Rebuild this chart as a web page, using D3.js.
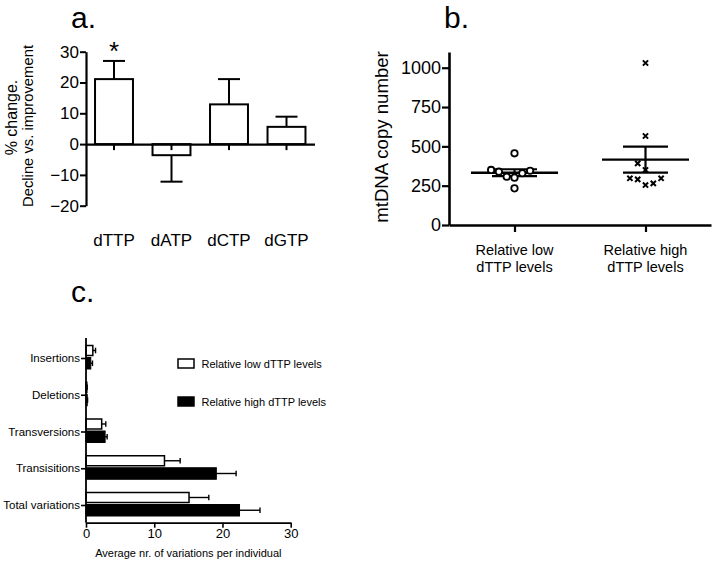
<!DOCTYPE html>
<html>
<head>
<meta charset="utf-8">
<script src="https://cdn.jsdelivr.net/npm/d3@7"></script>
<style>
  html, body { margin: 0; padding: 0; background: #fff; }
  svg { display: block; font-family: "Liberation Sans", Arial, Helvetica, sans-serif; }
  text { fill: #000; }
</style>
</head>
<body>
<svg id="chart" width="713" height="562"></svg>
<script>
// ---------- Panel a data ----------
const aCategories = ["dTTP", "dATP", "dCTP", "dGTP"];
const aValues = [21.1, -3.6, 12.9, 5.6];
const aErrors = [5.9, 8.6, 8.2, 3.3];
const aYTicks = [-20, -10, 0, 10, 20, 30];
const aSignificant = ["dTTP"];

// ---------- Panel b data ----------
const bGroups = ["Relative low dTTP levels", "Relative high dTTP levels"];
const bLowValues = [456, 350, 339, 307, 301, 329, 345, 233];
const bLowSlots = [0, -3, -2, -1, 0, 1, 2, 0];
const bHighValues = [1030, 566, 392, 350, 297, 290, 254, 265, 297];
const bHighSlots = [0, 0, -1, 0, -2, -1, 0, 1, 2];
const bYTicks = [0, 250, 500, 750, 1000];

// ---------- Panel c data ----------
const cCategories = ["Insertions", "Deletions", "Transversions", "Transisitions", "Total variations"];
const cLow = [1.0, 0.12, 2.3, 11.5, 15.1];
const cLowErr = [0.4, 0.05, 0.6, 2.3, 2.9];
const cHigh = [0.7, 0.18, 2.8, 19.1, 22.5];
const cHighErr = [0.25, 0.05, 0.3, 2.9, 3.0];
const cXTicks = [0, 10, 20, 30];
const cSeries = ["Relative low dTTP levels", "Relative high dTTP levels"];

const svg = d3.select("#chart");

// =================== Panel a ===================
(function () {
  const g = svg.append("g");
  const x = d3.scaleBand().domain(aCategories).range([86, 314.5])
    .paddingInner(0.34).paddingOuter(0.157);
  const y = d3.scaleLinear().domain([-20, 30]).range([205.7, 51.7]);

  g.append("text").attr("x", 71).attr("y", 28).attr("font-size", 30).text("a.");

  // bars
  g.selectAll("rect.bar").data(aCategories).enter().append("rect")
    .attr("x", d => x(d))
    .attr("width", x.bandwidth())
    .attr("y", (d, i) => y(Math.max(0, aValues[i])))
    .attr("height", (d, i) => Math.abs(y(aValues[i]) - y(0)))
    .attr("fill", "#fff").attr("stroke", "#000").attr("stroke-width", 2);

  // error bars
  aCategories.forEach((c, i) => {
    const cx = x(c) + x.bandwidth() / 2;
    const v = aValues[i];
    const e = v >= 0 ? v + aErrors[i] : v - aErrors[i];
    g.append("line").attr("x1", cx).attr("x2", cx).attr("y1", y(v)).attr("y2", y(e))
      .attr("stroke", "#000").attr("stroke-width", 2);
    g.append("line").attr("x1", cx - 11).attr("x2", cx + 11).attr("y1", y(e)).attr("y2", y(e))
      .attr("stroke", "#000").attr("stroke-width", 2);
    if (aSignificant.includes(c)) {
      g.append("text").attr("x", cx).attr("y", y(e) - 1).attr("text-anchor", "middle")
        .attr("font-size", 26).text("*");
    }
  });

  // y axis
  const ya = g.append("g").attr("transform", "translate(86,0)")
    .call(d3.axisLeft(y).tickValues(aYTicks).tickSize(6).tickSizeOuter(0).tickPadding(1));
  ya.select(".domain").attr("stroke-width", 2.2);
  ya.selectAll(".tick line").attr("stroke-width", 2);
  ya.selectAll(".tick text").attr("font-size", 17).attr("font-family", null).attr("fill", "#000");

  // x axis at zero
  const xa = g.append("g").attr("transform", `translate(0,${y(0)})`)
    .call(d3.axisBottom(x).tickSize(6).tickSizeOuter(0).tickFormat(""));
  xa.select(".domain").attr("stroke-width", 2.2);
  xa.selectAll(".tick line").attr("stroke-width", 2);

  g.selectAll("text.cat").data(aCategories).enter().append("text")
    .attr("x", d => x(d) + x.bandwidth() / 2).attr("y", 246)
    .attr("text-anchor", "middle").attr("font-size", 17).text(d => d);

  // y label
  g.append("text").attr("transform", "translate(17,117.5) rotate(-90)")
    .attr("text-anchor", "middle").attr("font-size", 16).text("% change.");
  g.append("text").attr("transform", "translate(33,126) rotate(-90)")
    .attr("text-anchor", "middle").attr("font-size", 14.8).text("Decline vs. improvement");
})();

// =================== Panel b ===================
(function () {
  const g = svg.append("g");
  const x = d3.scalePoint().domain(bGroups).range([449, 711]).padding(0.5);
  const y = d3.scaleLinear().domain([0, 1100]).range([225, 52]);
  const slotW = 7.8;

  g.append("text").attr("x", 444).attr("y", 28).attr("font-size", 30).text("b.");

  const ya = g.append("g").attr("transform", "translate(449,0)")
    .call(d3.axisLeft(y).tickValues(bYTicks).tickFormat(d3.format("d"))
      .tickSize(7).tickSizeOuter(0).tickPadding(1));
  ya.select(".domain").attr("stroke-width", 2.6);
  ya.selectAll(".tick line").attr("stroke-width", 2.2);
  ya.selectAll(".tick text").attr("font-size", 18).attr("font-family", null).attr("fill", "#000");

  const xa = g.append("g").attr("transform", "translate(0,225)")
    .call(d3.axisBottom(x).tickSize(7).tickSizeOuter(0).tickFormat(""));
  xa.select(".domain").attr("stroke-width", 2.6);
  xa.selectAll(".tick line").attr("stroke-width", 2.2);

  bGroups.forEach(gr => {
    const words = gr.split(" ");
    const t = g.append("text").attr("x", x(gr)).attr("y", 255).attr("text-anchor", "middle")
      .attr("font-size", 14.5);
    t.append("tspan").attr("x", x(gr)).attr("dy", 0).text(words.slice(0, 2).join(" "));
    t.append("tspan").attr("x", x(gr)).attr("dy", 16.7).text(words.slice(2).join(" "));
  });

  g.append("text").attr("transform", "translate(388,137) rotate(-90)")
    .attr("text-anchor", "middle").attr("font-size", 18.6).text("mtDNA copy number");

  // mean and SEM
  function meanSem(vals, cx) {
    const m = d3.mean(vals);
    const sem = d3.deviation(vals) / Math.sqrt(vals.length);
    g.append("line").attr("x1", cx - 43.5).attr("x2", cx + 43.5).attr("y1", y(m)).attr("y2", y(m))
      .attr("stroke", "#000").attr("stroke-width", 2.4);
    [m + sem, m - sem].forEach(v => {
      g.append("line").attr("x1", cx - 22.5).attr("x2", cx + 22.5).attr("y1", y(v)).attr("y2", y(v))
        .attr("stroke", "#000").attr("stroke-width", 2.2);
    });
    g.append("line").attr("x1", cx).attr("x2", cx).attr("y1", y(m + sem)).attr("y2", y(m - sem))
      .attr("stroke", "#000").attr("stroke-width", 2.2);
  }

  const cLowX = x(bGroups[0]);
  const cHighX = x(bGroups[1]);
  meanSem(bLowValues, cLowX);
  meanSem(bHighValues, cHighX);

  g.selectAll("circle.low").data(bLowValues).enter().append("circle")
    .attr("cx", (d, i) => cLowX + bLowSlots[i] * slotW)
    .attr("cy", d => y(d))
    .attr("r", 3.2).attr("fill", "#fff").attr("stroke", "#000").attr("stroke-width", 1.8);

  const s = 2.6;
  bHighValues.forEach((d, i) => {
    const cx = cHighX + bHighSlots[i] * slotW, cy = y(d);
    g.append("path")
      .attr("d", `M${cx - s},${cy - s}L${cx + s},${cy + s}M${cx - s},${cy + s}L${cx + s},${cy - s}`)
      .attr("stroke", "#000").attr("stroke-width", 2).attr("fill", "none");
  });
})();

// =================== Panel c ===================
(function () {
  const g = svg.append("g");
  const x = d3.scaleLinear().domain([0, 30]).range([86, 290.7]);
  const y = d3.scalePoint().domain(cCategories).range([358, 505]);
  const top = 338, bottom = 522.7;

  g.append("text").attr("x", 71).attr("y", 302).attr("font-size", 30).text("c.");

  // bars
  cCategories.forEach((c, i) => {
    const cy = y(c);
    g.append("rect").attr("x", x(0)).attr("y", cy - 12.5)
      .attr("width", x(cLow[i]) - x(0)).attr("height", 10)
      .attr("fill", "#fff").attr("stroke", "#000").attr("stroke-width", 1.5);
    g.append("rect").attr("x", x(0)).attr("y", cy - 0.5)
      .attr("width", x(cHigh[i]) - x(0)).attr("height", 11.5)
      .attr("fill", "#000").attr("stroke", "#000").attr("stroke-width", 1);
    [[cLow[i], cLowErr[i], cy - 7.5], [cHigh[i], cHighErr[i], cy + 5.25]].forEach(([v, e, yy]) => {
      g.append("line").attr("x1", x(v)).attr("x2", x(v + e)).attr("y1", yy).attr("y2", yy)
        .attr("stroke", "#000").attr("stroke-width", 1.4);
      g.append("line").attr("x1", x(v + e)).attr("x2", x(v + e)).attr("y1", yy - 2.8).attr("y2", yy + 2.8)
        .attr("stroke", "#000").attr("stroke-width", 1.4);
    });
  });

  const ya = g.append("g").attr("transform", "translate(86,0)")
    .call(d3.axisLeft(y).tickSize(5).tickSizeOuter(0).tickPadding(1));
  ya.select(".domain").remove();
  ya.append("line").attr("x1", 0).attr("x2", 0).attr("y1", top).attr("y2", bottom)
    .attr("stroke", "#000").attr("stroke-width", 1.8);
  ya.selectAll(".tick line").attr("stroke-width", 1.6);
  ya.selectAll(".tick text").attr("font-size", 11.5).attr("font-family", null).attr("fill", "#000");

  const xa = g.append("g").attr("transform", `translate(0,${bottom})`)
    .call(d3.axisBottom(x).tickValues(cXTicks).tickSize(5).tickSizeOuter(0).tickPadding(1));
  xa.select(".domain").attr("stroke-width", 1.8);
  xa.selectAll(".tick line").attr("stroke-width", 1.6);
  xa.selectAll(".tick text").attr("font-size", 13).attr("font-family", null).attr("fill", "#000");

  g.append("text").attr("x", (x.range()[0] + x.range()[1]) / 2).attr("y", 557)
    .attr("text-anchor", "middle").attr("font-size", 11).text("Average nr. of variations per individual");

  const lg = g.append("g");
  cSeries.forEach((s, i) => {
    const ly = 363.5 + i * 38;
    lg.append("rect").attr("x", 178).attr("y", ly - 4.5).attr("width", 16).attr("height", 9)
      .attr("fill", i === 0 ? "#fff" : "#000").attr("stroke", "#000").attr("stroke-width", 1.5);
    lg.append("text").attr("x", 201.5).attr("y", ly + 4).attr("font-size", 11).text(s);
  });
})();
</script>
</body>
</html>
